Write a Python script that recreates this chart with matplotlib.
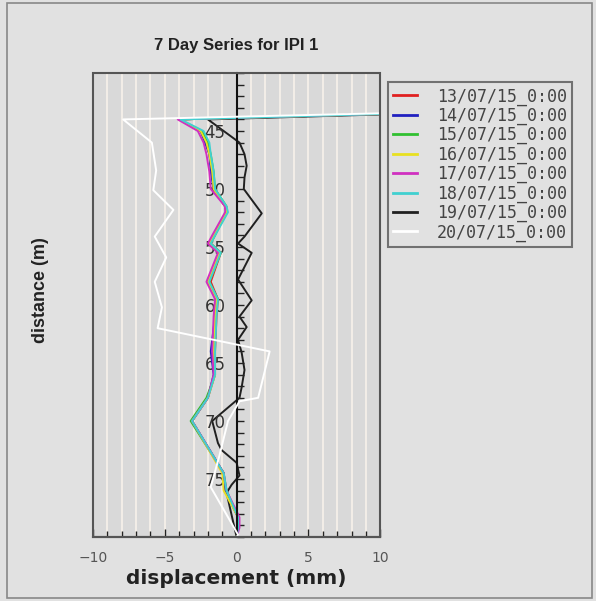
import matplotlib.pyplot as plt
from matplotlib.patches import Rectangle
from matplotlib.ticker import MultipleLocator

# series labels and colours
labels = ["13/07/15_0:00", "14/07/15_0:00", "15/07/15_0:00", "16/07/15_0:00",
          "17/07/15_0:00", "18/07/15_0:00", "19/07/15_0:00", "20/07/15_0:00"]
colors = ["#e02020", "#2020c0", "#30c030", "#e8e020", "#d030c0", "#40d0d0", "#202020", "#ffffff"]

# distance (m) for the six nearly identical series
depth_c = [43, 44, 45, 46, 47, 48.5, 50, 51.5, 52, 54, 54.7, 55.5, 58, 59.5, 61, 64, 66, 68, 70, 74.5, 76, 78.3, 79.2, 80]

disp_13 = [26, -4.0, -2.5, -2.1, -1.9, -1.7, -1.6, -0.8, -0.7, -1.6, -1.8, -1.1, -1.8, -1.3, -1.4, -1.5, -1.5, -2.0, -3.1, -0.9, -0.8, 0.1, 0.1, 0.0]
disp_14 = [26, -4.0, -2.5, -2.2, -1.9, -1.8, -1.6, -0.8, -0.7, -1.6, -1.9, -1.2, -2.0, -1.4, -1.5, -1.8, -1.6, -2.0, -3.1, -0.9, -0.8, 0.1, 0.1, 0.0]
disp_15 = [26, -4.0, -2.4, -2.0, -1.8, -1.6, -1.5, -0.7, -0.7, -1.5, -1.8, -1.1, -1.9, -1.3, -1.5, -1.6, -1.5, -2.1, -3.2, -0.9, -0.7, 0.1, 0.1, 0.0]
disp_16 = [26, -4.0, -2.5, -2.1, -1.9, -1.7, -1.6, -0.8, -0.7, -1.6, -1.9, -1.2, -2.0, -1.4, -1.5, -1.6, -1.5, -2.0, -3.1, -1.0, -0.9, 0.1, 0.1, 0.0]
disp_17 = [26, -4.1, -2.7, -2.3, -2.1, -1.9, -1.8, -0.8, -0.8, -1.7, -2.0, -1.3, -2.1, -1.5, -1.6, -1.7, -1.6, -2.0, -3.1, -0.9, -0.7, 0.2, 0.2, 0.0]
disp_18 = [26, -3.9, -2.3, -1.9, -1.8, -1.6, -1.5, -0.7, -0.6, -1.5, -1.8, -1.1, -1.9, -1.3, -1.4, -1.5, -1.5, -2.0, -3.1, -0.9, -0.7, 0.1, 0.1, 0.0]

depth_19 = [43, 44, 46, 47, 48, 49, 50, 52.1, 54.1, 54.7, 55.5, 57.8, 59.6, 61.0, 61.9, 63.0, 64.1, 65.6, 67.1, 68.0, 70.0, 71.9, 72.5, 73.6, 74.7, 75.5, 76.2, 80]
disp_19 = [26, -2.0, 0.2, 0.55, 0.7, 0.55, 0.5, 1.75, 0.55, 0.1, 1.05, 0.1, 1.05, 0.2, 0.7, 0.1, 0.35, 0.55, 0.35, 0.2, -1.7, -1.3, -1.05, 0.0, 0.2, -0.35, -0.7, 0.0]

depth_20 = [43, 44, 46, 48.4, 50.1, 51.8, 54.1, 55.9, 58.0, 60.2, 62.0, 64.0, 68.0, 68.3, 70, 73, 75.7, 79.8, 80]
disp_20 = [26, -7.9, -5.9, -5.6, -5.8, -4.4, -5.7, -4.9, -5.7, -5.2, -5.5, 2.3, 1.5, 0.2, -0.6, -1.2, -1.8, 0.1, 0.0]

series = [(depth_c, disp_13), (depth_c, disp_14), (depth_c, disp_15), (depth_c, disp_16),
          (depth_c, disp_17), (depth_c, disp_18), (depth_19, disp_19), (depth_20, disp_20)]

fig = plt.figure(figsize=(5.96, 6.01), dpi=100, facecolor="#e1e1e1")
ax = fig.add_axes([0.156, 0.1065, 0.482, 0.772])
ax.set_facecolor("#d9d9d9")

# vertical grid every 1 mm
for gx in range(-9, 10):
    ax.axvline(gx, color="#f3eee8", lw=1.4, zorder=0.5)

zorders = [2, 2.1, 2.2, 2.3, 2.4, 2.5, 1.5, 2.6]
for (d, v), c, lab, z in zip(series, colors, labels, zorders):
    ax.plot(v, d, color=c, lw=1.4, label=lab, zorder=z)

ax.set_xlim(-10, 10)
ax.set_ylim(80, 40)

# distance axis drawn on the zero line
ax.spines["left"].set_position(("data", 0))
ax.spines["left"].set_linewidth(1.5)
ax.spines["left"].set_color("#111111")
for s in ["top", "right"]:
    ax.spines[s].set_visible(False)
ax.spines["bottom"].set_color("#222222")
ax.spines["bottom"].set_linewidth(1.5)
ax.add_patch(Rectangle((0, 0), 1, 1, transform=ax.transAxes, fill=False,
                       ec="#555555", lw=1.5, clip_on=False, zorder=5))

ax.set_yticks([45, 50, 55, 60, 65, 70, 75])
ax.yaxis.set_minor_locator(MultipleLocator(1))
ax.tick_params(axis="y", which="both", direction="in", length=5, width=1,
               color="#222222", labelsize=12, labelcolor="#333333")
ax.tick_params(axis="y", which="major", pad=8)
for t in ax.get_yticklabels():
    t.set_zorder(6)

ax.set_xticks([-10, -5, 0, 5, 10])
ax.xaxis.set_minor_locator(MultipleLocator(1))
ax.tick_params(axis="x", which="major", direction="in", length=6, width=1, color="#222222",
               labelsize=10, labelcolor="#555555", pad=10)
ax.tick_params(axis="x", which="minor", direction="in", length=4, width=1, color="#222222")

ax.set_xlabel("displacement (mm)", fontsize=14.5, fontweight="bold", color="#222222", labelpad=3)
fig.text(0.068, 0.5175, "distance (m)", rotation=90, ha="center", va="center",
         fontsize=13, fontweight="bold", family="Liberation Sans", color="#222222")
fig.text(0.396, 0.925, "7 Day Series for IPI 1", ha="center", va="center",
         fontsize=12, fontweight="bold", family="Liberation Sans", color="#222222")

leg = ax.legend(loc="upper left", bbox_to_anchor=(0.651, 0.864), bbox_transform=fig.transFigure,
                borderaxespad=0, prop={"family": "DejaVu Sans Mono", "size": 12},
                handlelength=1.4, handletextpad=1.2, labelspacing=0.07,
                frameon=True, fancybox=False, facecolor="#e1e1e1", edgecolor="#555555",
                borderpad=0.33)
leg.get_frame().set_linewidth(1.5)
for t in leg.get_texts():
    t.set_color("#444444")
for h in leg.get_lines():
    h.set_linewidth(2)

# outer border of the picture
fig.patches.append(Rectangle((0.012, 0.005), 0.981, 0.99, transform=fig.transFigure,
                             fill=False, ec="#888888", lw=1.2))

fig.savefig("out.png", dpi=100, facecolor=fig.get_facecolor())
